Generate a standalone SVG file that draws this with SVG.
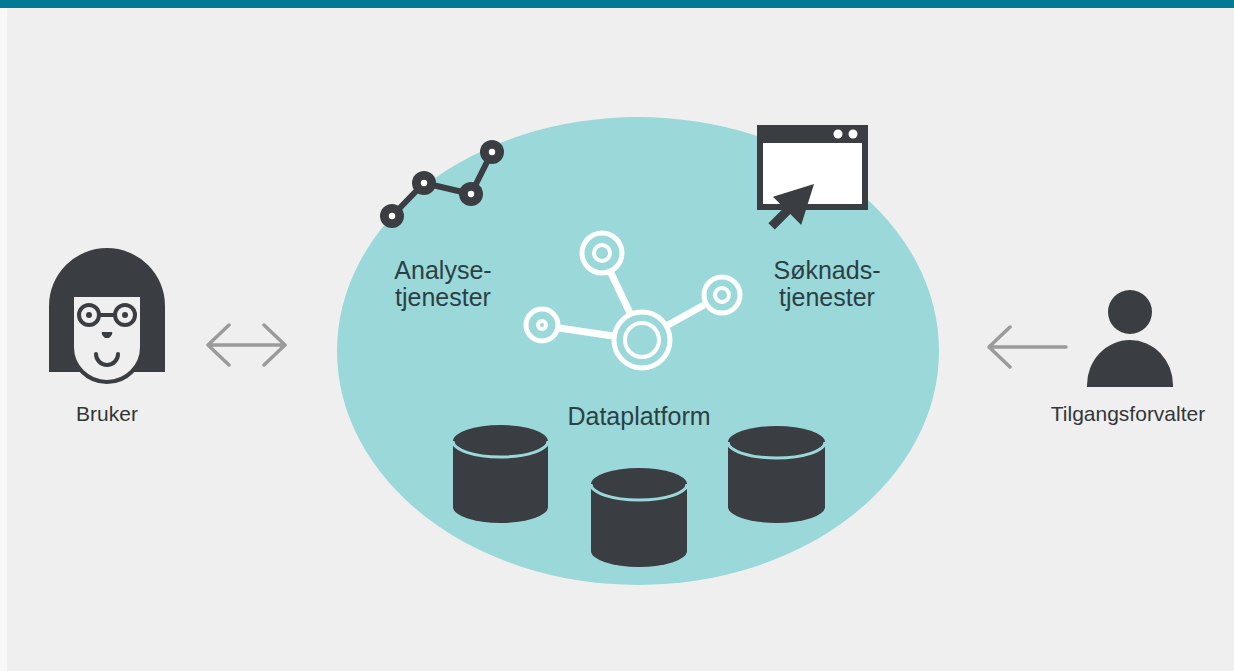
<svg xmlns="http://www.w3.org/2000/svg" width="1234" height="671" viewBox="0 0 1234 671">
  <style>
    .dark { fill: #3a3d42; }
    .ink { fill: none; stroke: #3a3d42; }
    .wire { fill: none; stroke: #ffffff; }
    .arrow { fill: none; stroke: #9b9b9b; stroke-width: 3.5; stroke-linecap: round; stroke-linejoin: round; }
    .label { font-family: "Liberation Sans", Arial, sans-serif; font-size: 21px; fill: #333638; text-anchor: middle; }
    .inner { font-family: "Liberation Sans", Arial, sans-serif; font-size: 25px; fill: #2c3f44; }
    .cap { fill: none; stroke: #9ad8da; stroke-width: 3; }
  </style>

  <!-- page background and header band -->
  <rect x="0" y="0" width="1234" height="671" fill="#efefef"/>
  <rect x="0" y="8" width="7" height="663" fill="#f8f8f8"/>
  <rect x="0" y="0" width="1234" height="8" fill="#037a93"/>

  <!-- platform area -->
  <g id="dataplatform">
    <ellipse cx="638" cy="351" rx="301" ry="234" fill="#9ad8da"/>
    <text class="inner" x="639" y="425" text-anchor="middle">Dataplatform</text>

    <!-- network symbol -->
    <g id="network">
      <line class="wire" stroke-width="7" x1="610" y1="271" x2="630" y2="313"/>
      <line class="wire" stroke-width="7" x1="704" y1="305" x2="668" y2="325"/>
      <line class="wire" stroke-width="7" x1="559" y1="328" x2="613" y2="336"/>
      <circle class="wire" stroke-width="5" cx="642" cy="340" r="28"/>
      <circle class="wire" stroke-width="4" cx="642" cy="340" r="17"/>
      <circle class="wire" stroke-width="5" cx="602" cy="253" r="20"/>
      <circle class="wire" stroke-width="4" cx="602" cy="253" r="8"/>
      <circle class="wire" stroke-width="5" cx="722" cy="295" r="18"/>
      <circle class="wire" stroke-width="4" cx="722" cy="295" r="7"/>
      <circle class="wire" stroke-width="5" cx="542" cy="325" r="16"/>
      <circle class="wire" stroke-width="4" cx="542" cy="325" r="4"/>
    </g>

    <!-- storage cylinders -->
    <g id="db-left">
      <path class="dark" d="M453,441 A47.5,16 0 0 1 548,441 V507 A47.5,16 0 0 1 453,507 Z"/>
      <path class="cap" d="M453,441 A47.5,16 0 0 0 548,441"/>
    </g>
    <g id="db-middle">
      <path class="dark" d="M591,484 A48,16 0 0 1 687,484 V551 A48,16 0 0 1 591,551 Z"/>
      <path class="cap" d="M591,484 A48,16 0 0 0 687,484"/>
    </g>
    <g id="db-right">
      <path class="dark" d="M728,442 A48.5,16 0 0 1 825,442 V507 A48.5,16 0 0 1 728,507 Z"/>
      <path class="cap" d="M728,442 A48.5,16 0 0 0 825,442"/>
    </g>
  </g>

  <!-- analytics services -->
  <g id="analysetjenester">
    <polyline class="ink" stroke-width="6" stroke-linejoin="round" points="392,216 424,183 471,194 492,152"/>
    <circle class="dark" cx="392" cy="216" r="12"/>
    <circle class="dark" cx="424" cy="183" r="12"/>
    <circle class="dark" cx="471" cy="194" r="12"/>
    <circle class="dark" cx="492" cy="152" r="12"/>
    <circle fill="#ffffff" cx="392" cy="216" r="3.2"/>
    <circle fill="#ffffff" cx="424" cy="183" r="3.2"/>
    <circle fill="#ffffff" cx="471" cy="194" r="3.2"/>
    <circle fill="#ffffff" cx="492" cy="152" r="3.2"/>
    <text class="inner" x="443" y="279" text-anchor="middle">Analyse-</text>
    <text class="inner" x="443" y="306" text-anchor="middle">tjenester</text>
  </g>

  <!-- application services -->
  <g id="soknadstjenester">
    <rect class="dark" x="757" y="125" width="111" height="85"/>
    <rect fill="#ffffff" x="763" y="143" width="99" height="61"/>
    <circle fill="#ffffff" cx="838" cy="134" r="4.5"/>
    <circle fill="#ffffff" cx="853" cy="134" r="4.5"/>
    <polygon class="dark" points="814,184 773,196.8 783.9,207.7 768.4,223.2 774.8,229.6 790.3,214.1 801.2,225"/>
    <text class="inner" x="827" y="279" text-anchor="middle">Søknads-</text>
    <text class="inner" x="827" y="306" text-anchor="middle">tjenester</text>
  </g>

  <!-- user -->
  <g id="bruker">
    <path class="dark" d="M49,372 V306 A58,58 0 0 1 165,306 V372 Z"/>
    <path d="M72,295 H142 V347 A35,35 0 0 1 72,347 Z" fill="#efefef" stroke="#3a3d42" stroke-width="4"/>
    <circle class="ink" stroke-width="4" cx="89" cy="315" r="10"/>
    <circle class="ink" stroke-width="4" cx="125" cy="315" r="10"/>
    <line class="ink" stroke-width="4" x1="99" y1="315" x2="115" y2="315"/>
    <circle class="dark" cx="89" cy="315" r="3"/>
    <circle class="dark" cx="125" cy="315" r="3"/>
    <path class="dark" d="M102,332 H112 Q113,333 111,336 L109,338 H105 L103,336 Q101,333 102,332 Z"/>
    <path class="ink" stroke-width="4" stroke-linecap="round" d="M96,354 A11,11 0 0 0 118,354"/>
    <text class="label" x="107" y="421">Bruker</text>
  </g>

  <!-- access manager -->
  <g id="tilgangsforvalter">
    <circle class="dark" cx="1130" cy="312" r="22"/>
    <path class="dark" d="M1087,387 V385 A43,45 0 0 1 1173,385 V387 Z"/>
    <text class="label" x="1128" y="421">Tilgangsforvalter</text>
  </g>

  <!-- connectors -->
  <g id="connectors">
    <path class="arrow" d="M208,345 H285 M229,325 L208,345 L229,365 M264,325 L285,345 L264,365"/>
    <path class="arrow" d="M1066,347 H989 M1010,327 L989,347 L1010,367"/>
  </g>
</svg>
